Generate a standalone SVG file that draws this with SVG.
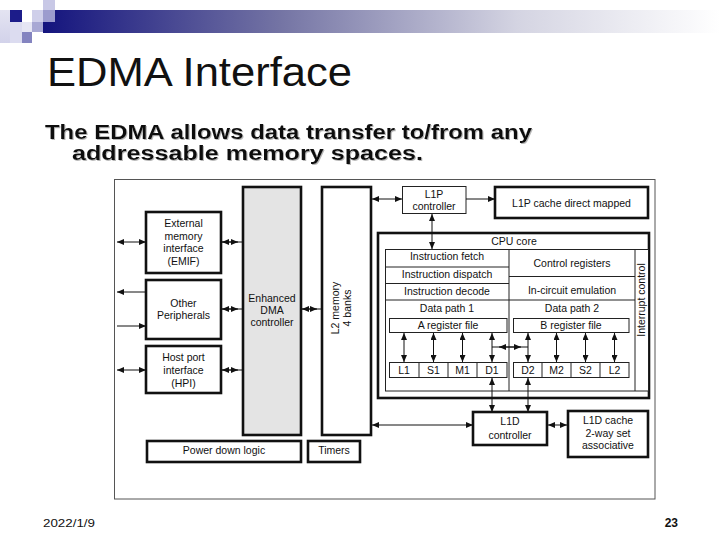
<svg xmlns="http://www.w3.org/2000/svg" width="720" height="540" viewBox="0 0 720 540">
<style>
text{font-family:"Liberation Sans",Arial,sans-serif;fill:#111}
.d{font-size:10.5px;text-anchor:middle}
.thick{fill:#fff;stroke:#111;stroke-width:2.6}
.thin{fill:#fff;stroke:#222;stroke-width:1}
.ln{fill:none;stroke:#222;stroke-width:1}
.c{fill:none;stroke:#111;stroke-width:1}
</style>
<defs>
<linearGradient id="bar" x1="0" y1="0" x2="1" y2="0">
<stop offset="0" stop-color="#14147e"/>
<stop offset="0.35" stop-color="#7474a4"/>
<stop offset="0.7" stop-color="#d4d4e2"/>
<stop offset="1" stop-color="#ffffff"/>
</linearGradient>
<linearGradient id="side" x1="0" y1="0" x2="0" y2="1">
<stop offset="0" stop-color="#e4e4f2"/>
<stop offset="1" stop-color="#d2d2ea"/>
</linearGradient>
<marker id="ah" viewBox="0 0 7 6" refX="7" refY="3" markerWidth="7" markerHeight="6" markerUnits="userSpaceOnUse" orient="auto-start-reverse">
<path d="M0,0 L7,3 L0,6 z" fill="#111"/>
</marker>
<filter id="sh" x="-5%" y="-20%" width="110%" height="140%">
<feDropShadow dx="1" dy="1" stdDeviation="0.3" flood-color="#999" flood-opacity="0.7"/>
</filter>
</defs>
<rect width="720" height="540" fill="#fff"/>

<g id="header">
<rect x="43" y="10" width="677" height="23" fill="url(#bar)"/>
<rect x="0" y="10" width="10" height="33" fill="url(#side)"/>
<rect x="10" y="22" width="12" height="21" fill="#dcdcf0"/>
<rect x="10" y="10" width="12" height="12" fill="#1c1c8a"/>
<rect x="43" y="0" width="12" height="10" fill="#c8c8e6"/>
<rect x="32" y="10" width="11" height="12" fill="#cfcfea"/>
<rect x="43" y="10" width="12" height="12" fill="#9c9cce"/>
<rect x="22" y="22" width="10" height="10" fill="#e6e6f4"/>
<rect x="32" y="22" width="11" height="10" fill="#a8a8d4"/>
<rect x="22" y="32" width="10" height="11" fill="#8484c0"/>
</g>

<g id="title">
<text x="47" y="86" font-size="41" textLength="305" lengthAdjust="spacingAndGlyphs">EDMA Interface</text>
<text x="45" y="139" font-size="20" font-weight="bold" filter="url(#sh)" textLength="487" lengthAdjust="spacingAndGlyphs">The EDMA allows data transfer to/from any</text>
<text x="72" y="160" font-size="20" font-weight="bold" filter="url(#sh)" textLength="351" lengthAdjust="spacingAndGlyphs">addressable memory spaces.</text>
</g>

<rect id="frame" x="114.5" y="179.5" width="540.5" height="319.5" fill="none" stroke="#555" stroke-width="1"/>

<g id="emif"><rect class="thick" x="146" y="212" width="75" height="61"/>
<text class="d" x="183.5" y="227">External</text><text class="d" x="183.5" y="240">memory</text><text class="d" x="183.5" y="252">interface</text><text class="d" x="183.5" y="265">(EMIF)</text></g>
<g id="periph"><rect class="thick" x="146" y="280" width="75" height="59"/>
<text class="d" x="183.5" y="307">Other</text><text class="d" x="183.5" y="319">Peripherals</text></g>
<g id="hpi"><rect class="thick" x="146" y="346" width="75" height="47"/>
<text class="d" x="183.5" y="361">Host port</text><text class="d" x="183.5" y="374">interface</text><text class="d" x="183.5" y="387">(HPI)</text></g>
<g id="edma"><rect class="thick" x="243" y="187" width="58" height="248" style="fill:#e4e4e4"/>
<text class="d" x="272" y="302">Enhanced</text><text class="d" x="272" y="314">DMA</text><text class="d" x="272" y="326">controller</text></g>
<g id="l2"><rect class="thick" x="322" y="187" width="49" height="248"/>
<g transform="translate(346,308) rotate(-90)"><text class="d" x="0" y="-7">L2 memory</text><text class="d" x="0" y="5">4 banks</text></g></g>
<g id="power"><rect class="thick" x="147" y="441" width="154" height="21"/><text class="d" x="224" y="454">Power down logic</text></g>
<g id="timers"><rect class="thick" x="308" y="441" width="52" height="21"/><text class="d" x="334" y="454">Timers</text></g>

<g id="l1p"><rect class="thin" x="402.5" y="186.5" width="63.5" height="27"/>
<text class="d" x="434" y="198">L1P</text><text class="d" x="434" y="210">controller</text></g>
<g id="l1pcache"><rect class="thick" x="495" y="187" width="153" height="31"/><text class="d" x="571.5" y="207">L1P cache direct mapped</text></g>

<g id="cpu">
<rect class="thick" x="378" y="233" width="271" height="165"/>
<text class="d" x="514" y="245">CPU core</text>
<rect class="thin" x="385.5" y="249.5" width="263" height="141.5"/>
<path class="ln" d="M385.5,267H509 M385.5,283.5H509 M385.5,300H509 M509,276.5H635 M509,300H635 M509,249.5V391 M635,249.5V391"/>
<text class="d" x="447" y="260">Instruction fetch</text>
<text class="d" x="447" y="278">Instruction dispatch</text>
<text class="d" x="447" y="295">Instruction decode</text>
<text class="d" x="447" y="312">Data path 1</text>
<text class="d" x="572" y="267">Control registers</text>
<text class="d" x="572" y="294">In-circuit emulation</text>
<text class="d" x="572" y="312">Data path 2</text>
<text class="d" transform="translate(645,300) rotate(-90)" x="0" y="0">Interrupt control</text>
<rect class="thin" x="389.5" y="318.5" width="117.5" height="14"/>
<text class="d" x="448" y="329">A register file</text>
<rect class="thin" x="513.5" y="318.5" width="115.5" height="14"/>
<text class="d" x="571" y="329">B register file</text>
<g id="units">
<rect class="thin" x="389.5" y="362.5" width="117.5" height="15"/>
<rect class="thin" x="513.5" y="362.5" width="115.5" height="15"/>
<path class="ln" d="M419,362.5V377.5 M448,362.5V377.5 M477,362.5V377.5 M542,362.5V377.5 M571,362.5V377.5 M600,362.5V377.5"/>
<text class="d" x="404" y="374">L1</text><text class="d" x="433.5" y="374">S1</text><text class="d" x="462.5" y="374">M1</text><text class="d" x="492" y="374">D1</text>
<text class="d" x="528" y="374">D2</text><text class="d" x="556.5" y="374">M2</text><text class="d" x="585.5" y="374">S2</text><text class="d" x="614.5" y="374">L2</text>
</g>
</g>

<g id="l1d"><rect class="thick" x="473" y="412" width="74" height="33"/>
<text class="d" x="510" y="425">L1D</text><text class="d" x="510" y="439">controller</text></g>
<g id="l1dcache"><rect class="thick" x="568" y="411" width="80" height="46"/>
<text class="d" x="608" y="424">L1D cache</text><text class="d" x="608" y="437">2-way set</text><text class="d" x="608" y="449">associative</text></g>

<g id="connectors">
<path class="c" d="M117,242H146" marker-start="url(#ah)" marker-end="url(#ah)"/>
<path class="c" d="M146,292H117" marker-end="url(#ah)"/>
<path class="c" d="M117,326H146" marker-end="url(#ah)"/>
<path class="c" d="M117,370H146" marker-start="url(#ah)" marker-end="url(#ah)"/>
<path class="c" d="M221,242H243"/><path class="c" d="M222,242H238" marker-start="url(#ah)" marker-end="url(#ah)"/>
<path class="c" d="M221,309H243"/><path class="c" d="M222,309H238" marker-start="url(#ah)" marker-end="url(#ah)"/>
<path class="c" d="M221,370H243"/><path class="c" d="M222,370H238" marker-start="url(#ah)" marker-end="url(#ah)"/>
<path class="c" d="M301,309H322"/><path class="c" d="M302,309H317" marker-start="url(#ah)" marker-end="url(#ah)"/>
<path class="c" d="M372,199H402" marker-start="url(#ah)" marker-end="url(#ah)"/>
<path class="c" d="M466,199H495" marker-end="url(#ah)"/>
<path class="c" d="M432,214V249" marker-start="url(#ah)" marker-end="url(#ah)"/>
<path class="c" d="M404,333V362" marker-start="url(#ah)" marker-end="url(#ah)"/>
<path class="c" d="M433.5,333V362" marker-start="url(#ah)" marker-end="url(#ah)"/>
<path class="c" d="M462.5,333V362" marker-start="url(#ah)" marker-end="url(#ah)"/>
<path class="c" d="M492,333V362" marker-start="url(#ah)" marker-end="url(#ah)"/>
<path class="c" d="M528,333V362" marker-start="url(#ah)" marker-end="url(#ah)"/>
<path class="c" d="M556.5,333V362" marker-start="url(#ah)" marker-end="url(#ah)"/>
<path class="c" d="M585.5,333V362" marker-start="url(#ah)" marker-end="url(#ah)"/>
<path class="c" d="M614.5,333V362" marker-start="url(#ah)" marker-end="url(#ah)"/>
<path class="c" d="M492,347H528"/><path class="c" d="M499,347H521" marker-start="url(#ah)" marker-end="url(#ah)"/>
<path class="c" d="M492,378V412" marker-start="url(#ah)" marker-end="url(#ah)"/>
<path class="c" d="M528,378V412" marker-start="url(#ah)" marker-end="url(#ah)"/>
<path class="c" d="M372,425H473" marker-start="url(#ah)" marker-end="url(#ah)"/>
<path class="c" d="M548,425H567" marker-start="url(#ah)" marker-end="url(#ah)"/>
</g>

<g id="footer">
<text x="43" y="527" font-size="10.5" fill="#222" textLength="52" lengthAdjust="spacingAndGlyphs">2022/1/9</text>
<text x="678" y="527" font-size="12" font-weight="bold" text-anchor="end">23</text>
</g>
</svg>
